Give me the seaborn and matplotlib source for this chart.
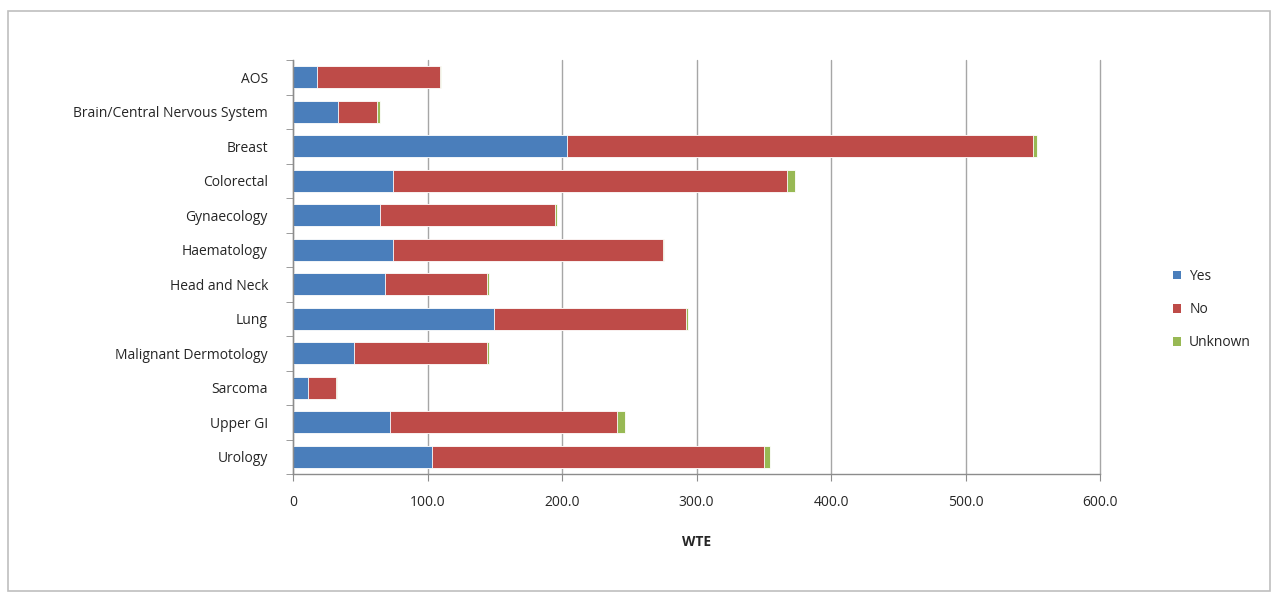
import matplotlib
matplotlib.use("Agg")
import matplotlib.pyplot as plt
import seaborn as sns
import pandas as pd
import numpy as np
from matplotlib.patches import Rectangle, Patch
from matplotlib.ticker import FuncFormatter, FixedLocator

categories = ["AOS", "Brain/Central Nervous System", "Breast", "Colorectal", "Gynaecology",
              "Haematology", "Head and Neck", "Lung", "Malignant Dermotology", "Sarcoma",
              "Upper GI", "Urology"]
yes_vals = [18, 33.5, 204, 74, 65, 74, 68.5, 149.5, 45.5, 11, 72, 103.5]
no_vals = [91, 29, 346, 293, 130, 201, 76, 142.5, 99, 21, 169, 247]
unknown_vals = [1, 2.5, 3, 6, 1, 1, 1, 1.5, 1, 0.5, 5.5, 4.5]
xticks = [0, 100, 200, 300, 400, 500, 600]

colors = {"Yes": "#4A7EBB", "No": "#BE4B48", "Unknown": "#98B954"}

sns.set_style("white")
plt.rcParams["font.family"] = ["Open Sans", "DejaVu Sans"]

df = pd.DataFrame({"cat": categories, "Yes": yes_vals, "No": no_vals, "Unknown": unknown_vals})
df["c_yes"] = df["Yes"]
df["c_no"] = df["Yes"] + df["No"]
df["c_unk"] = df["c_no"] + df["Unknown"]

fig = plt.figure(figsize=(12.78, 6.01), dpi=100)
fig.patches.append(Rectangle((8 / 1278, 10 / 601), 1262 / 1278, 580 / 601, transform=fig.transFigure,
                             fill=False, edgecolor="#BFBFBF", linewidth=1.2))
ax = fig.add_axes([293 / 1278, 127 / 601, 807 / 1278, 414 / 601])

for col, name in [("c_unk", "Unknown"), ("c_no", "No"), ("c_yes", "Yes")]:
    sns.barplot(data=df, x=col, y="cat", order=categories, color=colors[name], orient="h",
                width=0.64, ax=ax, saturation=1, edgecolor="white", linewidth=0.6)

ax.set_xlim(0, 600)
ax.set_ylim(11.5, -0.5)
ax.xaxis.set_major_locator(FixedLocator(xticks))
ax.xaxis.set_major_formatter(FuncFormatter(lambda v, p: "0" if v == 0 else f"{v:.1f}"))
ax.grid(axis="x", color="#A6A6A6", linewidth=1.0)
for gl in ax.get_xgridlines():
    gl.set_clip_on(False)
ax.set_axisbelow(True)
for s in ["top", "right"]:
    ax.spines[s].set_visible(False)
for s in ["left", "bottom"]:
    ax.spines[s].set_color("#8C8C8C")
    ax.spines[s].set_linewidth(1.0)

ax.set_yticks(np.arange(-0.5, 12, 1), minor=True)
ax.tick_params(axis="y", which="major", length=0, labelsize=10, pad=18, labelcolor="#262626")
ax.tick_params(axis="y", which="minor", length=5, color="#8C8C8C", left=True)
ax.tick_params(axis="x", which="major", length=5, color="#8C8C8C", direction="out", labelsize=10,
               pad=10, labelcolor="#262626", bottom=True)
ax.set_ylabel("")
ax.set_xlabel("WTE", fontsize=10, fontweight="bold", labelpad=18, color="#262626")

handles = [Patch(facecolor=colors[n], edgecolor="none") for n in ["Yes", "No", "Unknown"]]
fig.legend(handles, ["Yes", "No", "Unknown"], loc="center left", bbox_to_anchor=(1160 / 1278, 0.485),
           frameon=False, fontsize=10, handlelength=0.6, handleheight=0.6, labelspacing=1.3,
           handletextpad=0.6, labelcolor="#262626")

fig.savefig("out.png", dpi=100)
